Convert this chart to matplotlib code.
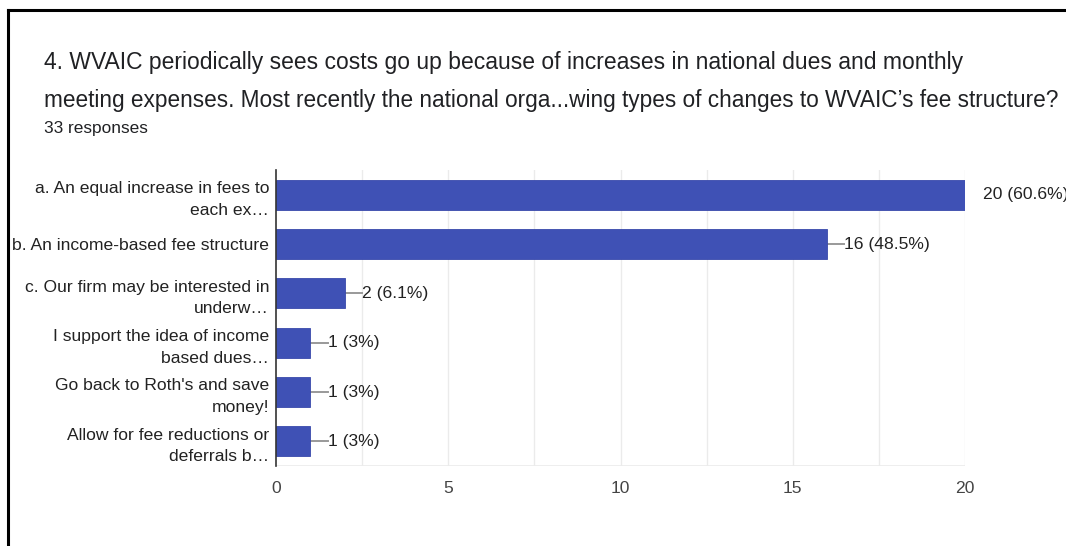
import matplotlib
matplotlib.use("Agg")
import matplotlib.pyplot as plt
import matplotlib.lines as mlines

categories = [
    "a. An equal increase in fees to\neach ex…",
    "b. An income-based fee structure",
    "c. Our firm may be interested in\nunderw…",
    "I support the idea of income\nbased dues…",
    "Go back to Roth's and save\nmoney!",
    "Allow for fee reductions or\ndeferrals b…",
]
counts = [20, 16, 2, 1, 1, 1]
value_labels = ["20 (60.6%)", "16 (48.5%)", "2 (6.1%)", "1 (3%)", "1 (3%)", "1 (3%)"]
xticks = [0, 5, 10, 15, 20]

title_lines = [
    "4. WVAIC periodically sees costs go up because of increases in national dues and monthly",
    "meeting expenses. Most recently the national orga...wing types of changes to WVAIC’s fee structure?",
]
subtitle = "33 responses"

FONT = "Liberation Sans"
W, H = 1066, 546
fig = plt.figure(figsize=(W / 100, H / 100), dpi=100)
fig.patch.set_facecolor("white")

# frame border (top and left)
fig.add_artist(mlines.Line2D([8 / W, 8 / W], [0, 1 - 10 / H], color="black", lw=2.2, transform=fig.transFigure))
fig.add_artist(mlines.Line2D([8 / W, 1], [1 - 10 / H, 1 - 10 / H], color="black", lw=2.2, transform=fig.transFigure))

fig.text(44 / W, 1 - 63 / H, title_lines[0], fontsize=16.5, family=FONT, color="#202124", va="center", ha="left")
fig.text(44 / W, 1 - 101 / H, title_lines[1], fontsize=16.3, family=FONT, color="#202124", va="center", ha="left")
fig.text(44 / W, 1 - 129 / H, subtitle, fontsize=12.4, family=FONT, color="#202124", va="center", ha="left")

left, right, top, bottom = 276, 965, 170, 466
ax = fig.add_axes([left / W, 1 - bottom / H, (right - left) / W, (bottom - top) / H])

y = list(range(len(categories)))
ax.barh(y, counts, height=0.61, color="#3f51b5", edgecolor="#3949ab", linewidth=0.6, zorder=3)
ax.set_ylim(len(categories) - 0.5, -0.5)
ax.set_xlim(0, 20)

for xv in [2.5, 5, 7.5, 10, 12.5, 15, 17.5, 20]:
    ax.axvline(xv, color="#ebebeb", lw=1, zorder=1)
ax.axhline(len(categories) - 0.5, color="#ebebeb", lw=1.2, zorder=1)

ax.set_yticks(y)
ax.set_yticklabels(categories, fontsize=12.6, family=FONT, color="#222222", linespacing=1.55)
ax.set_xticks(xticks)
ax.set_xticklabels([str(v) for v in xticks], fontsize=12.6, family=FONT, color="#444444")
ax.tick_params(axis="y", length=0, pad=5)
ax.tick_params(axis="x", length=0, pad=11)

for s in ["top", "right", "bottom"]:
    ax.spines[s].set_visible(False)
ax.spines["left"].set_color("#333333")
ax.spines["left"].set_linewidth(1.2)
ax.spines["left"].set_zorder(4)

for yi, c, lab in zip(y, counts, value_labels):
    if c >= 20:
        ax.annotate(lab, xy=(c, yi), xytext=(13, 0), textcoords="offset points",
                    va="center", ha="left", fontsize=12.6, family=FONT,
                    color="#222222", annotation_clip=False)
    else:
        ax.plot([c, c + 0.5], [yi, yi], color="#999999", lw=1.4, zorder=2, clip_on=False)
        ax.text(c + 0.5, yi, lab, va="center", ha="left", fontsize=12.6,
                family=FONT, color="#222222")

fig.savefig("out.png", dpi=100)
